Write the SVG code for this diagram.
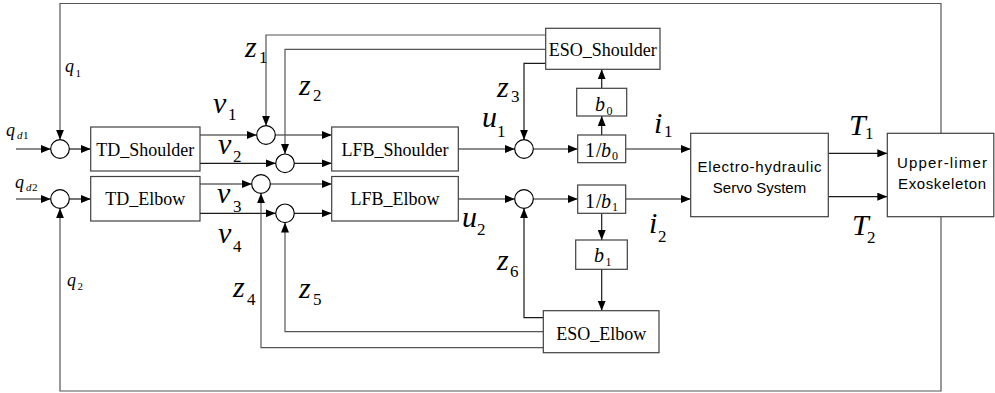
<svg xmlns="http://www.w3.org/2000/svg" width="995" height="393" viewBox="0 0 995 393">
<style>
.box{fill:#fff;stroke:#404040;stroke-width:1.2}
.sum{fill:#fff;stroke:#000;stroke-width:1.2}
.ln{fill:none;stroke:#1a1a1a;stroke-width:1.2}
.fb{fill:none;stroke:#555;stroke-width:1.2}
text{font-family:'Liberation Serif','DejaVu Serif',serif;fill:#000}
.bt{font-size:18px}
.st{font-family:'Liberation Sans','DejaVu Sans',sans-serif;font-size:15px}
.m{font-size:30px;font-style:italic}
.s{font-size:17px;font-style:normal}
.mq{font-size:18px;font-style:italic}
.sqi{font-size:11px;font-style:italic}
.sqn{font-size:11px;font-style:normal}
.bb{font-size:20px}
.bi{font-size:20px;font-style:italic}
.bs{font-size:12px}
</style>
<defs>
<marker id="ah" markerWidth="10" markerHeight="8" refX="10" refY="4" orient="auto" markerUnits="userSpaceOnUse">
<path d="M0,0 L10,4 L0,8 z" fill="#000"/>
</marker>
</defs>
<rect width="995" height="393" fill="#fff"/>

<g id="connectors">
<path class="ln" d="M16,149 H50.7" marker-end="url(#ah)"/>
<path class="ln" d="M69.3,149 H90.7" marker-end="url(#ah)"/>
<path class="ln" d="M16,199 H50.7" marker-end="url(#ah)"/>
<path class="ln" d="M69.3,199 H90.7" marker-end="url(#ah)"/>
<path class="fb" d="M941,133.3 V3.5 H60 V139.7" marker-end="url(#ah)"/>
<path class="fb" d="M941,216.7 V391 H60 V208.3" marker-end="url(#ah)"/>
<path class="ln" d="M200,135 H256.7" marker-end="url(#ah)"/>
<path class="ln" d="M200,163.3 H275.7" marker-end="url(#ah)"/>
<path class="ln" d="M200,184 H251.7" marker-end="url(#ah)"/>
<path class="ln" d="M200,213.3 H275.7" marker-end="url(#ah)"/>
<path class="ln" d="M275.3,135 H331.7" marker-end="url(#ah)"/>
<path class="ln" d="M294.3,163.3 H331.7" marker-end="url(#ah)"/>
<path class="ln" d="M270.3,184 H331.7" marker-end="url(#ah)"/>
<path class="ln" d="M294.3,213.3 H331.7" marker-end="url(#ah)"/>
<path class="fb" d="M545.7,35 H266 V125.7" marker-end="url(#ah)"/>
<path class="fb" d="M545.7,49.3 H285 V154" marker-end="url(#ah)"/>
<path class="fb" d="M543.3,347.7 H261 V193.3" marker-end="url(#ah)"/>
<path class="fb" d="M543.3,331.7 H285 V222.6" marker-end="url(#ah)"/>
<path class="ln" d="M458.3,149 H514.7" marker-end="url(#ah)"/>
<path class="ln" d="M458.3,199 H514.7" marker-end="url(#ah)"/>
<path class="ln" d="M545.7,63.3 H524 V139.7" marker-end="url(#ah)"/>
<path class="ln" d="M543.3,317.7 H524 V208.3" marker-end="url(#ah)"/>
<path class="ln" d="M533.3,149 H577.7" marker-end="url(#ah)"/>
<path class="ln" d="M533.3,199 H577.7" marker-end="url(#ah)"/>
<path class="ln" d="M601.7,135 V116" marker-end="url(#ah)"/>
<path class="ln" d="M601.7,88.3 V69.3" marker-end="url(#ah)"/>
<path class="ln" d="M601.7,213.3 V240" marker-end="url(#ah)"/>
<path class="ln" d="M601.7,269.3 V310.7" marker-end="url(#ah)"/>
<path class="ln" d="M625.7,149 H690.7" marker-end="url(#ah)"/>
<path class="ln" d="M625.7,199 H690.7" marker-end="url(#ah)"/>
<path class="ln" d="M828.3,153.3 H887.3" marker-end="url(#ah)"/>
<path class="ln" d="M828.3,196.7 H887.3" marker-end="url(#ah)"/>
</g>

<g id="sum_q1"><circle class="sum" cx="60" cy="149" r="9.3"/></g>
<g id="sum_q2"><circle class="sum" cx="60" cy="199" r="9.3"/></g>
<g id="sum_v1"><circle class="sum" cx="266" cy="135" r="9.3"/></g>
<g id="sum_v2"><circle class="sum" cx="285" cy="163.3" r="9.3"/></g>
<g id="sum_v3"><circle class="sum" cx="261" cy="184" r="9.3"/></g>
<g id="sum_v4"><circle class="sum" cx="285" cy="213.3" r="9.3"/></g>
<g id="sum_u1"><circle class="sum" cx="524" cy="149" r="9.3"/></g>
<g id="sum_u2"><circle class="sum" cx="524" cy="199" r="9.3"/></g>

<g id="td_shoulder"><rect class="box" x="90.7" y="127" width="109.3" height="44"/><text class="bt" x="145.3" y="156" text-anchor="middle">TD_Shoulder</text></g>
<g id="td_elbow"><rect class="box" x="90.7" y="176.5" width="109.3" height="44.5"/><text class="bt" x="145.3" y="205" text-anchor="middle">TD_Elbow</text></g>
<g id="lfb_shoulder"><rect class="box" x="331.7" y="127" width="126.6" height="44"/><text class="bt" x="395" y="156" text-anchor="middle">LFB_Shoulder</text></g>
<g id="lfb_elbow"><rect class="box" x="331.7" y="176.5" width="126.6" height="44.5"/><text class="bt" x="395" y="205" text-anchor="middle">LFB_Elbow</text></g>
<g id="eso_shoulder"><rect class="box" x="545.7" y="28.3" width="114.3" height="41"/><text class="bt" x="602.8" y="55.5" text-anchor="middle">ESO_Shoulder</text></g>
<g id="eso_elbow"><rect class="box" x="543.3" y="310.7" width="115.7" height="42"/><text class="bt" x="601.2" y="339.5" text-anchor="middle">ESO_Elbow</text></g>
<g id="b0"><rect class="box" x="576.7" y="88.3" width="50" height="27.7"/><text class="bi" x="595" y="111">b</text><text class="bs" x="606.5" y="115">0</text></g>
<g id="inv_b0"><rect class="box" x="577.7" y="135" width="48" height="27.7"/><text class="bb" x="585" y="157">1</text><text class="bb" x="596" y="157">/</text><text class="bi" x="601" y="157">b</text><text class="bs" x="612" y="160">0</text></g>
<g id="inv_b1"><rect class="box" x="577.7" y="185" width="48" height="28.3"/><text class="bb" x="585" y="207.5">1</text><text class="bb" x="596" y="207.5">/</text><text class="bi" x="601" y="207.5">b</text><text class="bs" x="612" y="210.5">1</text></g>
<g id="b1"><rect class="box" x="575.7" y="240" width="51.6" height="29.3"/><text class="bi" x="594" y="262">b</text><text class="bs" x="605.5" y="266">1</text></g>
<g id="servo"><rect class="box" x="690.7" y="133.3" width="137.6" height="83.4"/><text class="st" x="759.5" y="171.5" text-anchor="middle" textLength="124" lengthAdjust="spacing">Electro-hydraulic</text><text class="st" x="759.5" y="193" text-anchor="middle">Servo System</text></g>
<g id="exo"><rect class="box" x="887.3" y="133.3" width="106.5" height="83.4"/><text class="st" x="942" y="168" text-anchor="middle" textLength="90" lengthAdjust="spacing">Upper-limer</text><text class="st" x="942" y="188.5" text-anchor="middle" textLength="88" lengthAdjust="spacing">Exoskeleton</text></g>

<g id="labels">
<text class="mq" x="65" y="72">q<tspan class="sqn" x="75.5" y="77">1</tspan></text>
<text class="mq" x="6" y="136">q<tspan class="sqi" x="17" y="139">d</tspan><tspan class="sqn" x="23" y="139">1</tspan></text>
<text class="mq" x="15" y="188">q<tspan class="sqi" x="26" y="191">d</tspan><tspan class="sqn" x="32" y="191">2</tspan></text>
<text class="mq" x="67" y="286">q<tspan class="sqn" x="77.5" y="290">2</tspan></text>
<text class="m" x="213" y="113">v<tspan class="s" x="228" y="120">1</tspan></text>
<text class="m" x="218" y="154">v<tspan class="s" x="233" y="162">2</tspan></text>
<text class="m" x="217" y="203">v<tspan class="s" x="233" y="212">3</tspan></text>
<text class="m" x="218" y="243">v<tspan class="s" x="233" y="252">4</tspan></text>
<text class="m" x="245" y="57">z<tspan class="s" x="259" y="63">1</tspan></text>
<text class="m" x="299" y="95">z<tspan class="s" x="313" y="101">2</tspan></text>
<text class="m" x="497" y="97">z<tspan class="s" x="511" y="102">3</tspan></text>
<text class="m" x="233" y="297">z<tspan class="s" x="247" y="305">4</tspan></text>
<text class="m" x="299" y="298">z<tspan class="s" x="313" y="305">5</tspan></text>
<text class="m" x="497" y="270">z<tspan class="s" x="510" y="277">6</tspan></text>
<text class="m" x="482" y="127">u<tspan class="s" x="497" y="137">1</tspan></text>
<text class="m" x="462" y="227">u<tspan class="s" x="477" y="235">2</tspan></text>
<text class="m" x="654" y="133">i<tspan class="s" x="664" y="137">1</tspan></text>
<text class="m" x="649" y="233">i<tspan class="s" x="658" y="242">2</tspan></text>
<text class="m" x="849" y="135">T<tspan class="s" x="865" y="139">1</tspan></text>
<text class="m" x="852" y="235">T<tspan class="s" x="867" y="243">2</tspan></text>
</g>
</svg>
